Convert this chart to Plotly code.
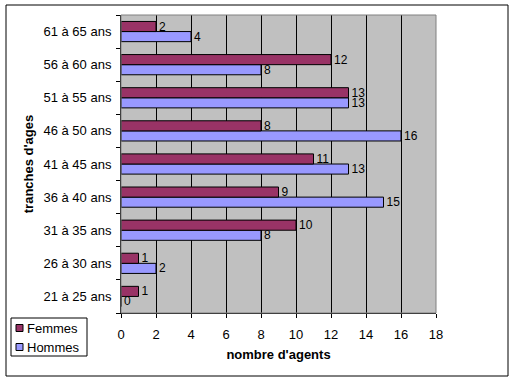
import plotly.graph_objects as go

categories = ["21 à 25 ans", "26 à 30 ans", "31 à 35 ans", "36 à 40 ans", "41 à 45 ans",
              "46 à 50 ans", "51 à 55 ans", "56 à 60 ans", "61 à 65 ans"]
femmes = [1, 1, 10, 9, 11, 8, 13, 12, 2]
hommes = [0, 2, 8, 15, 13, 16, 13, 8, 4]
x_ticks = [0, 2, 4, 6, 8, 10, 12, 14, 16, 18]
series_names = ["Femmes", "Hommes"]
series_colors = ["#993366", "#9999FF"]

FONT = "Liberation Sans, Arial, sans-serif"

fig = go.Figure()
fig.add_trace(go.Bar(
    y=categories, x=hommes, name=series_names[1], orientation="h",
    marker=dict(color=series_colors[1], line=dict(color="black", width=1)),
    text=[str(v) for v in hommes], textposition="outside", cliponaxis=False,
    constraintext="none",
    textfont=dict(family=FONT, size=12, color="black"), showlegend=False,
))
fig.add_trace(go.Bar(
    y=categories, x=femmes, name=series_names[0], orientation="h",
    marker=dict(color=series_colors[0], line=dict(color="black", width=1)),
    text=[str(v) for v in femmes], textposition="outside", cliponaxis=False,
    constraintext="none",
    textfont=dict(family=FONT, size=12, color="black"), showlegend=False,
))

W, H = 514, 381
L, R, T, B = 121, 78, 15, 68
pw, ph = W - L - R, H - T - B

def px_x(p):
    return (p - L) / pw

def px_y(p):
    return (H - B - p) / ph

shapes = [
    dict(type="rect", xref="paper", yref="paper", x0=0, x1=1, y0=0, y1=1,
         line=dict(color="#808080", width=1), fillcolor="rgba(0,0,0,0)", layer="above"),
    dict(type="rect", xref="paper", yref="paper",
         x0=px_x(6), x1=px_x(508), y0=px_y(376), y1=px_y(5),
         line=dict(color="black", width=1), fillcolor="rgba(0,0,0,0)"),
    # legend box
    dict(type="rect", xref="paper", yref="paper",
         x0=px_x(11), x1=px_x(87), y0=px_y(356), y1=px_y(318),
         line=dict(color="black", width=1), fillcolor="white"),
]
annotations = []
for i, (nm, col) in enumerate(zip(series_names, series_colors)):
    cy = 328 + i * 19
    shapes.append(dict(type="rect", xref="paper", yref="paper",
                       x0=px_x(16), x1=px_x(23), y0=px_y(cy + 3.5), y1=px_y(cy - 3.5),
                       line=dict(color="black", width=1), fillcolor=col))
    annotations.append(dict(xref="paper", yref="paper", x=px_x(25), y=px_y(cy),
                            xanchor="left", yanchor="middle", showarrow=False,
                            text=nm, font=dict(family=FONT, size=13, color="black")))

fig.update_layout(
    width=W, height=H,
    margin=dict(l=L, r=R, t=T, b=B, pad=0, autoexpand=False),
    barmode="group", bargap=0.39, bargroupgap=0,
    paper_bgcolor="white", plot_bgcolor="#C0C0C0",
    font=dict(family=FONT, size=12, color="black"),
    showlegend=False,
    xaxis=dict(
        range=[0, 18], tickvals=x_ticks, ticktext=[str(v) for v in x_ticks],
        showgrid=True, gridcolor="black", gridwidth=1,
        ticks="outside", ticklen=4, tickcolor="black",
        showline=True, linecolor="black", linewidth=1,
        zeroline=False, mirror=False, automargin=False,
        ticklabelstandoff=5,
        title=dict(text="<b>nombre d'agents</b>", font=dict(family=FONT, size=13), standoff=9),
        tickfont=dict(family=FONT, size=13),
    ),
    yaxis=dict(
        type="category", categoryorder="array", categoryarray=categories,
        ticks="outside", ticklen=4, tickcolor="black", tickson="boundaries",
        showline=True, linecolor="black", linewidth=1,
        showgrid=False, automargin=False, ticklabelstandoff=6,
        title=dict(text="<b>tranches d'ages</b>", font=dict(family=FONT, size=13), standoff=6),
        tickfont=dict(family=FONT, size=13),
    ),
    shapes=shapes,
    annotations=annotations,
)

fig.write_html("out.html", config={"displayModeBar": False},
               post_script="document.body.style.margin='0';document.body.style.overflow='hidden';")
